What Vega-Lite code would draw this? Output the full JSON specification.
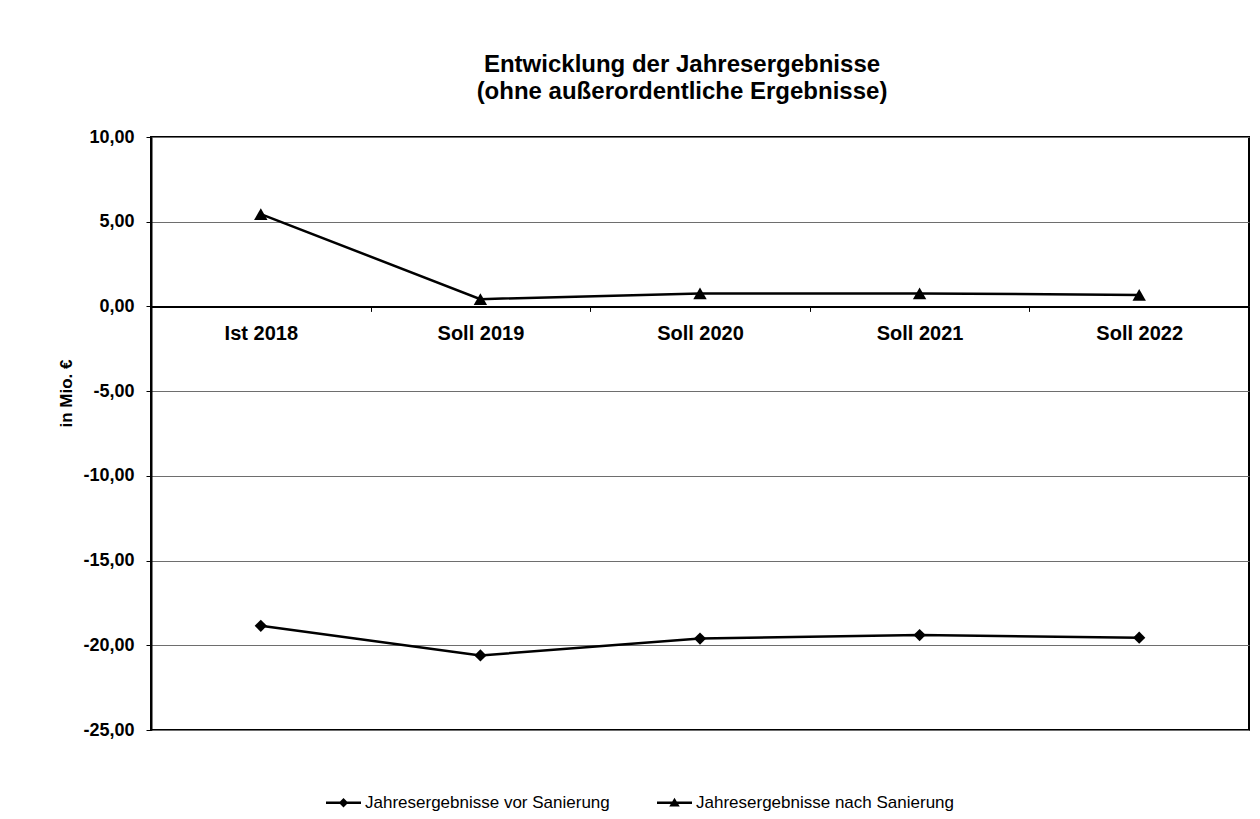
{
  "$schema": "https://vega.github.io/schema/vega-lite/v6.json",
  "autosize": {"type": "none"},
  "width": 1098,
  "height": 593,
  "padding": {"left": 151, "top": 137, "right": 11, "bottom": 89},
  "background": "white",
  "title": {
    "text": ["Entwicklung der Jahresergebnisse", "(ohne außerordentliche Ergebnisse)"],
    "font": "Liberation Sans",
    "fontSize": 24,
    "fontWeight": "bold",
    "color": "black",
    "anchor": "middle",
    "lineHeight": 27,
    "dx": -18,
    "offset": 24
  },
  "config": {
    "locale": {
      "number": {"decimal": ",", "thousands": ".", "grouping": [3], "currency": ["", " €"], "minus": "-"}
    },
    "view": {"stroke": "black", "strokeWidth": 2},
    "font": "Liberation Sans"
  },
  "data": {
    "values": [
      {"jahr": "Ist 2018", "reihe": "Jahresergebnisse vor Sanierung", "wert": -18.85},
      {"jahr": "Soll 2019", "reihe": "Jahresergebnisse vor Sanierung", "wert": -20.6},
      {"jahr": "Soll 2020", "reihe": "Jahresergebnisse vor Sanierung", "wert": -19.6},
      {"jahr": "Soll 2021", "reihe": "Jahresergebnisse vor Sanierung", "wert": -19.4},
      {"jahr": "Soll 2022", "reihe": "Jahresergebnisse vor Sanierung", "wert": -19.55},
      {"jahr": "Ist 2018", "reihe": "Jahresergebnisse nach Sanierung", "wert": 5.45},
      {"jahr": "Soll 2019", "reihe": "Jahresergebnisse nach Sanierung", "wert": 0.43},
      {"jahr": "Soll 2020", "reihe": "Jahresergebnisse nach Sanierung", "wert": 0.77},
      {"jahr": "Soll 2021", "reihe": "Jahresergebnisse nach Sanierung", "wert": 0.77},
      {"jahr": "Soll 2022", "reihe": "Jahresergebnisse nach Sanierung", "wert": 0.68}
    ]
  },
  "encoding": {
    "x": {
      "field": "jahr",
      "type": "ordinal",
      "sort": null,
      "scale": {"type": "band", "paddingInner": 0, "paddingOuter": 0},
      "axis": {
        "title": null,
        "offset": -423.6,
        "domainColor": "black",
        "domainWidth": 2,
        "tickBand": "extent",
        "tickColor": "black",
        "tickSize": 5,
        "tickWidth": 1,
        "labelAngle": 0,
        "labelFont": "Liberation Sans",
        "labelFontSize": 20,
        "labelFontWeight": "bold",
        "labelColor": "black",
        "labelPadding": 12,
        "grid": false
      }
    },
    "y": {
      "field": "wert",
      "type": "quantitative",
      "scale": {"domain": [-25, 10], "nice": false, "zero": false},
      "axis": {
        "title": "in Mio. €",
        "titleFont": "Liberation Sans",
        "titleFontSize": 17,
        "titleFontWeight": "bold",
        "titleColor": "black",
        "titleX": -76,
        "titleY": 256,
        "values": [-25, -20, -15, -10, -5, 0, 5, 10],
        "format": ".2f",
        "labelFont": "Liberation Sans",
        "labelFontSize": 18,
        "labelFontWeight": "bold",
        "labelColor": "black",
        "labelPadding": 12,
        "tickSize": 5,
        "tickColor": "black",
        "domainColor": "black",
        "domainWidth": 2,
        "grid": true,
        "gridColor": "#6e6e6e",
        "gridWidth": 1,
        "gridOpacity": 1
      }
    }
  },
  "layer": [
    {
      "mark": {"type": "line", "color": "black", "strokeWidth": 2.5},
      "encoding": {"detail": {"field": "reihe"}}
    },
    {
      "transform": [{"filter": "datum.reihe === 'Jahresergebnisse vor Sanierung'"}],
      "mark": {"type": "point", "shape": "diamond", "filled": true, "color": "black", "opacity": 1, "size": 150}
    },
    {
      "transform": [{"filter": "datum.reihe === 'Jahresergebnisse nach Sanierung'"}],
      "mark": {"type": "point", "shape": "triangle-up", "filled": true, "color": "black", "opacity": 1, "size": 180}
    },
    {
      "mark": {"type": "point", "filled": true, "color": "black", "opacity": 0, "size": 1225},
      "encoding": {
        "shape": {
          "field": "reihe",
          "type": "nominal",
          "sort": ["Jahresergebnisse vor Sanierung", "Jahresergebnisse nach Sanierung"],
          "scale": {
            "range": [
              "M-1,-0.065L1,-0.065L1,0.065L-1,0.065Z M0,-0.27L0.27,0L0,0.27L-0.27,0Z",
              "M-1,-0.065L1,-0.065L1,0.065L-1,0.065Z M0,-0.28L0.3,0.22L-0.3,0.22Z"
            ]
          },
          "legend": {
            "title": null,
            "orient": "none",
            "direction": "horizontal",
            "legendX": 174,
            "legendY": 647,
            "padding": 0,
            "symbolSize": 1225,
            "symbolOpacity": 1,
            "symbolFillColor": "black",
            "columnPadding": 44,
            "labelOffset": 3,
            "labelLimit": 500,
            "labelFont": "Liberation Sans",
            "labelFontSize": 17,
            "labelColor": "black"
          }
        }
      }
    }
  ]
}
